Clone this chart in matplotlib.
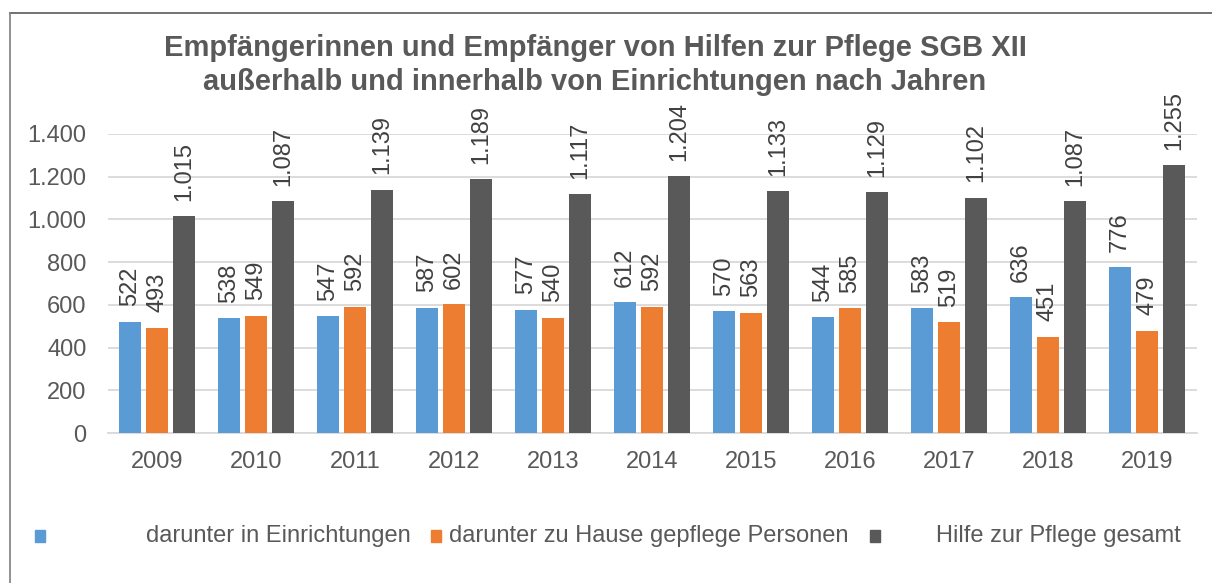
import matplotlib
matplotlib.use("Agg")
import matplotlib.pyplot as plt
from matplotlib.patches import Rectangle
from matplotlib.lines import Line2D
import numpy as np

years = ["2009", "2010", "2011", "2012", "2013", "2014", "2015", "2016", "2017", "2018", "2019"]
einrichtungen = [522, 538, 547, 587, 577, 612, 570, 544, 583, 636, 776]
zu_hause = [493, 549, 592, 602, 540, 592, 563, 585, 519, 451, 479]
gesamt = [1015, 1087, 1139, 1189, 1117, 1204, 1133, 1129, 1102, 1087, 1255]
series_names = ["darunter in Einrichtungen", "darunter zu Hause gepflege Personen", "Hilfe zur Pflege gesamt"]
colors = ["#5B9BD5", "#ED7D31", "#595959"]
yticks = [0, 200, 400, 600, 800, 1000, 1200, 1400]

plt.rcParams['font.family'] = ['Liberation Sans', 'DejaVu Sans']
txt = "#595959"
fs = 17

fig = plt.figure(figsize=(12.12, 5.83), dpi=100)
W, H = 1212, 583
ax = fig.add_axes([107.5 / W, (H - 433) / H, (1196.5 - 107.5) / W, (433 - 134) / H])

x = np.arange(len(years))
bw = 0.222
off = 0.273

def fmt(v):
    return f"{v:,}".replace(",", ".")

for i, (vals, c) in enumerate(zip([einrichtungen, zu_hause, gesamt], colors)):
    pos = x + (i - 1) * off
    ax.bar(pos, vals, width=bw, color=c, zorder=3)
    for p, v in zip(pos, vals):
        ax.annotate(fmt(v), (p, v), xytext=(0, 11), textcoords="offset points",
                    rotation=90, ha="center", va="bottom", fontsize=fs,
                    color="#404040", clip_on=False, annotation_clip=False)

ax.set_xlim(-0.5, len(years) - 0.5)
ax.set_ylim(0, 1400)
ax.set_yticks(yticks)
ax.set_yticklabels([fmt(v) for v in yticks])
ax.set_xticks(x)
ax.set_xticklabels(years)
ax.tick_params(axis="both", length=0, labelsize=fs, colors=txt)
ax.tick_params(axis="y", pad=15)
ax.tick_params(axis="x", pad=13)
ax.grid(axis="y", color="#D9D9D9", linewidth=1.3, zorder=0)
for s in ["top", "right", "left"]:
    ax.spines[s].set_visible(False)
ax.spines["bottom"].set_color("#D9D9D9")
ax.spines["bottom"].set_linewidth(1.3)

# Title
fig.text(595 / W, 1 - 48 / H, "Empfängerinnen und Empfänger von Hilfen zur Pflege SGB XII",
         ha="center", va="center", fontsize=21, fontweight="bold", color=txt)
fig.text(595 / W, 1 - 82 / H, "außerhalb und innerhalb von Einrichtungen nach Jahren",
         ha="center", va="center", fontsize=21, fontweight="bold", color=txt)

# Legend (manual, matching layout)
leg_y = 536
markers = [35, 431, 870]
text_x = [146, 449, 936]
for mx, tx, c, name in zip(markers, text_x, colors, series_names):
    fig.patches.append(Rectangle((mx / W, 1 - (leg_y + 6) / H), 10 / W, 12 / H,
                                 transform=fig.transFigure, color=c, figure=fig))
    fig.text(tx / W, 1 - leg_y / H, name, ha="left", va="center", fontsize=fs, color=txt)

# Outer frame (top and left edges)
fig.lines.append(Line2D([10 / W, 1], [1 - 13 / H, 1 - 13 / H], transform=fig.transFigure,
                        color="#595959", linewidth=1.2, figure=fig))
fig.lines.append(Line2D([10 / W, 10 / W], [0, 1 - 13 / H], transform=fig.transFigure,
                        color="#7F7F7F", linewidth=1.2, figure=fig))

fig.savefig("out.png", dpi=100)
